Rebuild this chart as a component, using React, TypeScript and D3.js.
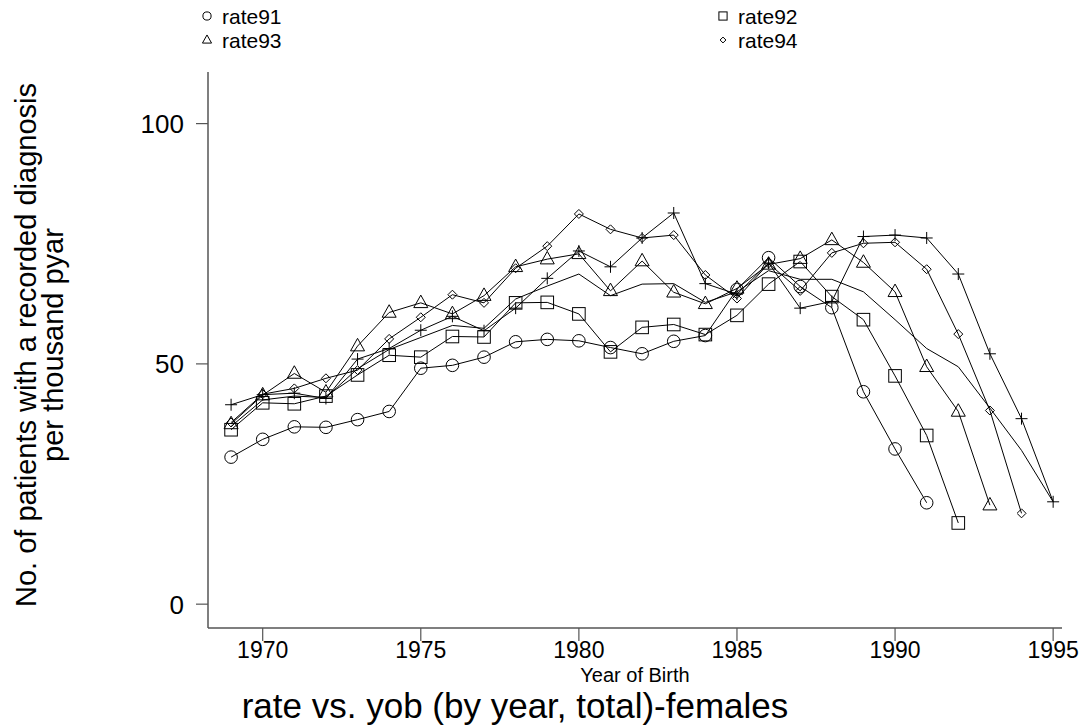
import React, { useEffect, useRef } from 'react';
import * as d3 from 'd3';

// Year of birth axis
const years = d3.range(1969, 1996);

// Rates by survey year (per thousand pyar), each starting at 1969
const rate91 = [30.6, 34.3, 36.9, 36.8, 38.4, 40.1, 49.1, 49.7, 51.4, 54.6, 55.1, 54.8, 53.4, 52.1, 54.7, 55.9, 65.5, 72.1, 66.1, 61.7, 44.2, 32.3, 21.1];
const rate92 = [36.3, 41.9, 41.7, 43.3, 47.7, 51.8, 51.4, 55.7, 55.6, 62.7, 62.8, 60.4, 52.5, 57.6, 58.2, 56.1, 60.1, 66.6, 71.3, 64.0, 59.2, 47.5, 35.1, 16.9];
const rate93 = [37.5, 43.5, 48.0, 44.1, 53.7, 60.7, 62.7, 60.4, 64.2, 70.2, 71.8, 72.9, 65.2, 71.4, 64.9, 62.5, 65.7, 70.7, 71.9, 75.8, 71.1, 65.0, 49.4, 40.1, 20.6];
const rate94 = [37.8, 43.7, 44.9, 47.0, 48.7, 55.2, 59.7, 64.4, 62.7, 69.9, 74.5, 81.2, 78.0, 76.2, 76.8, 68.5, 63.6, 70.9, 65.2, 73.1, 75.1, 75.3, 69.7, 56.2, 40.3, 18.9];
const rate95 = [41.5, 43.6, 43.9, 42.8, 51.0, 53.2, 57.0, 59.9, 56.9, 61.6, 67.8, 73.5, 70.2, 76.2, 81.4, 66.7, 64.5, 71.0, 61.6, 63.0, 76.5, 76.8, 76.2, 68.7, 52.1, 38.6, 21.3];
const total = [37.0, 42.5, 43.3, 43.0, 49.0, 53.0, 55.5, 58.0, 57.4, 63.5, 66.2, 68.7, 64.2, 66.6, 66.7, 62.8, 65.0, 69.4, 67.6, 67.6, 65.0, 59.2, 53.2, 49.4, 40.8, 32.0, 21.3];

const xTicks = [1970, 1975, 1980, 1985, 1990, 1995];
const yTicks = [0, 50, 100];

type Marker = 'circle' | 'square' | 'triangle' | 'diamond' | 'plus' | 'none';

const series: { name: string; values: number[]; marker: Marker }[] = [
  { name: 'rate91', values: rate91, marker: 'circle' },
  { name: 'rate92', values: rate92, marker: 'square' },
  { name: 'rate93', values: rate93, marker: 'triangle' },
  { name: 'rate94', values: rate94, marker: 'diamond' },
  { name: 'rate95', values: rate95, marker: 'plus' },
  { name: 'total', values: total, marker: 'none' },
];

const legendItems: { name: string; marker: Marker }[] = [
  { name: 'rate91', marker: 'circle' },
  { name: 'rate92', marker: 'square' },
  { name: 'rate93', marker: 'triangle' },
  { name: 'rate94', marker: 'diamond' },
];

const FONT = '"Liberation Sans", Arial, Helvetica, sans-serif';

const drawMarker = (g: d3.Selection<SVGGElement, unknown, null, undefined>, kind: Marker, x: number, y: number, s = 1) => {
  let el: any = null;
  if (kind === 'circle') {
    el = g.append('circle').attr('cx', x).attr('cy', y).attr('r', 6.3 * s);
  } else if (kind === 'square') {
    el = g.append('rect').attr('x', x - 6.3 * s).attr('y', y - 6.3 * s).attr('width', 12.6 * s).attr('height', 12.6 * s);
  } else if (kind === 'triangle') {
    const h = 12.5 * s;
    el = g.append('path').attr('d', `M${x},${y - h * 0.62} L${x + 7 * s},${y + h * 0.38} L${x - 7 * s},${y + h * 0.38} Z`);
  } else if (kind === 'diamond') {
    el = g.append('path').attr('d', `M${x},${y - 4.5 * s} L${x + 4.5 * s},${y} L${x},${y + 4.5 * s} L${x - 4.5 * s},${y} Z`);
  } else if (kind === 'plus') {
    el = g.append('path').attr('d', `M${x - 6 * s},${y} H${x + 6 * s} M${x},${y - 6 * s} V${y + 6 * s}`);
  }
  if (el) el.attr('stroke', '#000').attr('stroke-width', 1).attr('fill', 'none');
};

export default function App() {
  const svgRef = useRef<SVGSVGElement>(null);

  useEffect(() => {
    if (!svgRef.current) return;
    const W = 1079;
    const H = 725;
    const root = d3.select(svgRef.current);
    root.selectAll('*').remove();
    root.attr('width', W).attr('height', H);

    const g = root.append('g') as d3.Selection<SVGGElement, unknown, null, undefined>;

    const xScale = d3.scaleLinear().domain([1968.27, 1995.28]).range([208, 1062]);
    const yScale = d3.scaleLinear().domain([-4.96, 110.74]).range([628, 72]);

    const axisColor = '#555';

    // Axes lines
    g.append('line')
      .attr('x1', 208).attr('x2', 208)
      .attr('y1', yScale(110.74)).attr('y2', yScale(-4.96))
      .attr('stroke', axisColor).attr('stroke-width', 1.5);
    g.append('line')
      .attr('x1', 208).attr('x2', 1062)
      .attr('y1', 628).attr('y2', 628)
      .attr('stroke', axisColor).attr('stroke-width', 1.5);

    // Y ticks
    yTicks.forEach((t) => {
      g.append('line')
        .attr('x1', 196).attr('x2', 208)
        .attr('y1', yScale(t)).attr('y2', yScale(t))
        .attr('stroke', axisColor).attr('stroke-width', 1.2);
      g.append('text')
        .attr('x', 184).attr('y', yScale(t))
        .attr('dy', '0.36em')
        .attr('text-anchor', 'end')
        .attr('font-family', FONT).attr('font-size', 26)
        .text(String(t));
    });

    // X ticks
    xTicks.forEach((t) => {
      g.append('line')
        .attr('x1', xScale(t)).attr('x2', xScale(t))
        .attr('y1', 628).attr('y2', 641)
        .attr('stroke', axisColor).attr('stroke-width', 1.2);
      g.append('text')
        .attr('x', xScale(t)).attr('y', 658)
        .attr('text-anchor', 'middle')
        .attr('font-family', FONT).attr('font-size', 23)
        .text(String(t));
    });

    // Lines
    const line = d3.line<number>()
      .x((_, i) => xScale(years[i]))
      .y((d) => yScale(d));

    series.forEach((s) => {
      g.append('path')
        .datum(s.values)
        .attr('fill', 'none')
        .attr('stroke', '#000')
        .attr('stroke-width', 1)
        .attr('d', line);
    });

    // Markers
    series.forEach((s) => {
      s.values.forEach((v, i) => drawMarker(g, s.marker, xScale(years[i]), yScale(v)));
    });

    // Legend
    legendItems.forEach((item, i) => {
      const col = i % 2;
      const row = Math.floor(i / 2);
      const mx = col === 0 ? 207 : 723;
      const my = 16 + row * 24;
      drawMarker(g, item.marker, mx, my, 0.65);
      g.append('text')
        .attr('x', mx + 15).attr('y', my)
        .attr('dy', '0.36em')
        .attr('font-family', FONT).attr('font-size', 21)
        .text(item.name);
    });

    // Axis titles
    g.append('text')
      .attr('x', 635).attr('y', 682)
      .attr('text-anchor', 'middle')
      .attr('font-family', FONT).attr('font-size', 20)
      .text('Year of Birth');

    g.append('text')
      .attr('x', 515).attr('y', 718)
      .attr('text-anchor', 'middle')
      .attr('font-family', FONT).attr('font-size', 35)
      .text('rate vs. yob (by year, total)-females');

    const yTitle = g.append('text')
      .attr('transform', 'translate(0,345) rotate(-90)')
      .attr('text-anchor', 'middle')
      .attr('font-family', FONT).attr('font-size', 29);
    yTitle.append('tspan').attr('x', 0).attr('y', 36).text('No. of patients with a recorded diagnosis');
    yTitle.append('tspan').attr('x', 0).attr('y', 63).text('per thousand pyar');
  }, []);

  return (
    <div style={{ position: 'absolute', left: 0, top: 0, background: '#fff' }}>
      <svg ref={svgRef} style={{ display: 'block' }} />
    </div>
  );
}
